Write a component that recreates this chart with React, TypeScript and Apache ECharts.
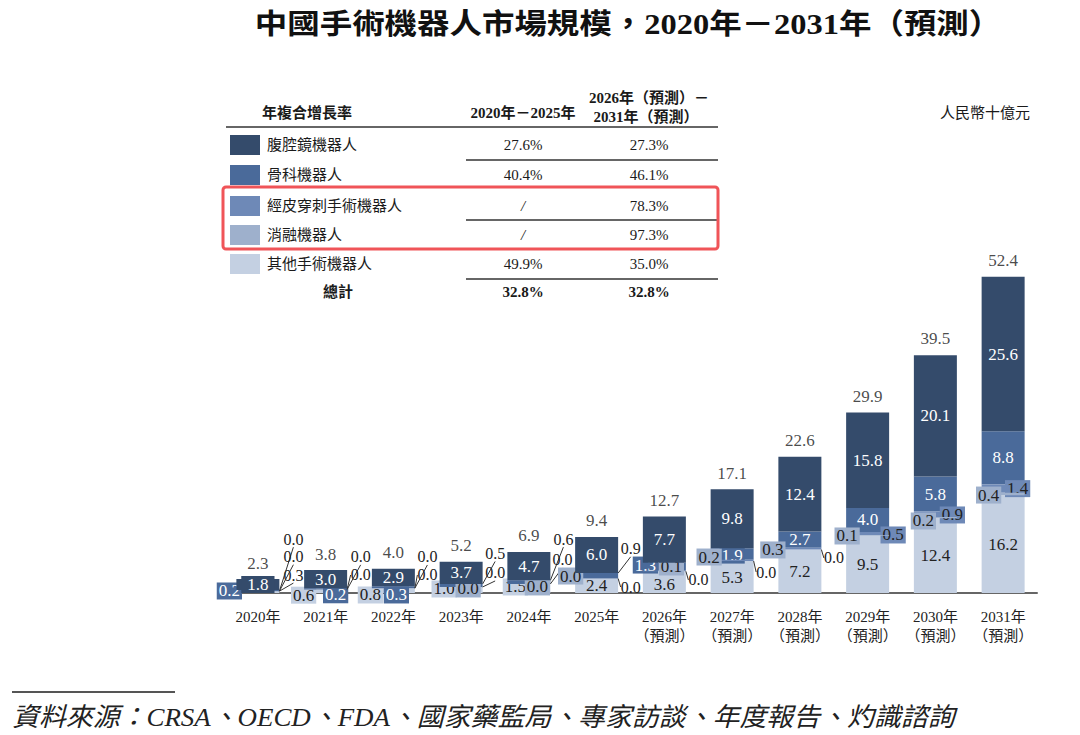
import React, { useEffect, useRef } from "react";
import * as echarts from "echarts";

// ---------------- data ----------------
const years = [
  "2020年", "2021年", "2022年", "2023年", "2024年", "2025年",
  "2026年\n（預測）", "2027年\n（預測）", "2028年\n（預測）",
  "2029年\n（預測）", "2030年\n（預測）", "2031年\n（預測）",
];
const laparoscopic = [1.8, 3.0, 2.9, 3.7, 4.7, 6.0, 7.7, 9.8, 12.4, 15.8, 20.1, 25.6];
const orthopedic = [0.2, 0.2, 0.3, 0.5, 0.6, 0.9, 1.3, 1.9, 2.7, 4.0, 5.8, 8.8];
const percutaneous = [0.0, 0.0, 0.0, 0.0, 0.0, 0.0, 0.1, 0.2, 0.3, 0.5, 0.9, 1.4];
const ablation = [0.0, 0.0, 0.0, 0.0, 0.0, 0.0, 0.0, 0.0, 0.0, 0.1, 0.2, 0.4];
const others = [0.3, 0.6, 0.8, 1.0, 1.5, 2.4, 3.6, 5.3, 7.2, 9.5, 12.4, 16.2];
const totals = [2.3, 3.8, 4.0, 5.2, 6.9, 9.4, 12.7, 17.1, 22.6, 29.9, 39.5, 52.4];

const seriesNames = ["腹腔鏡機器人", "骨科機器人", "經皮穿刺手術機器人", "消融機器人", "其他手術機器人"];
const cagrA = ["27.6%", "40.4%", "/", "/", "49.9%"];
const cagrB = ["27.3%", "46.1%", "78.3%", "97.3%", "35.0%"];
const totalLabel = "總計";
const totalCagr = ["32.8%", "32.8%"];

const TITLE = "中國手術機器人市場規模，2020年－2031年（預測）";
const UNIT = "人民幣十億元";
const SOURCE = "資料來源：CRSA、OECD、FDA、國家藥監局、專家訪談、年度報告、灼識諮詢";

// ---------------- styles ----------------
const COLORS: Record<string, string> = {
  lap: "#344b6b",
  ortho: "#4a6a9a",
  perc: "#6e89b7",
  abl: "#9eb0cc",
  other: "#c4d0e2",
};
const TEXT_ON: Record<string, string> = {
  lap: "#ffffff",
  ortho: "#ffffff",
  perc: "#222222",
  abl: "#222222",
  other: "#222222",
};
const FONT = '"Liberation Serif", "Noto Sans CJK TC", serif';

// label placement: [dx, dy, background key, guide line]
type Spec = [number, number, string, number] | null;
const N: Spec = null;
const lapSpecs: Spec[] = [[0, 0, "lap", 0], N, N, N, N, N, N, N, N, N, N, N];
const orthoSpecs: Spec[] = [
  [-28.5, 0.4, "ortho", 0], [10, 6, "ortho", 0], [3, 7.7, "ortho", 0],
  [34, -32, "", 1], [34.5, -43, "", 1], [34, -27, "", 1],
  [-19, -1.7, "ortho", 0], [0, 1, "ortho", 0], N, N, N, N,
];
const percSpecs: Spec[] = [
  [35.5, -52, "", 1], [35, -32.5, "", 1], [34, -31.2, "", 1],
  [34, -14, "", 1], [33.5, -24, "", 1], [34, 8.5, "", 1],
  [7, -4, "abl", 0], [-23, -3.4, "abl", 0], [-27, 1.3, "abl", 0],
  [25.5, 1.4, "perc", 0], [17, 0.7, "perc", 0], [14.5, 0, "perc", 0],
];
const ablSpecs: Spec[] = [
  [35.5, -34.5, "", 1], [35, -14.4, "", 1], [34, -13.2, "", 1],
  [7, 2, "abl", 0], [8.5, 3, "abl", 0], [-26, -2.5, "abl", 0],
  [34, 8.7, "", 1], [34, 11, "", 1], [34, 8.4, "", 1],
  [-20.5, 0.6, "abl", 0], [-12, 3.4, "abl", 0], [-14.5, 1, "abl", 0],
];
const otherSpecs: Spec[] = [
  [35.5, -17, "", 1], [-22, 4, "other", 0], [-23, 4.4, "other", 0],
  [-17, -1, "other", 0], [-13.5, -1.5, "other", 0], N,
  [0, 2.5, "", 0], N, N, N, N, N,
];

function buildData(vals: number[], specs: Spec[]) {
  return vals.map((v, i) => {
    const s = specs[i];
    const item: any = { value: v };
    if (s) {
      const [, , bg, line] = s;
      if (bg) {
        item.label = {
          backgroundColor: COLORS[bg],
          color: TEXT_ON[bg],
          padding: bg === "lap" ? [1, 6] : [1, 2],
        };
      } else if (line) {
        item.label = { color: "#222222", padding: 0, fontSize: 16 };
      }
      if (line) item.labelLine = { show: true, lineStyle: { color: "#333333", width: 1 } };
    }
    return item;
  });
}

function barSeries(name: string, key: string, vals: number[], specs: Spec[], z: number) {
  return {
    name,
    type: "bar",
    stack: "total",
    barWidth: 43,
    z,
    data: buildData(vals, specs),
    itemStyle: { color: COLORS[key] },
    label: {
      show: true,
      position: "inside",
      formatter: (p: any) => Number(p.value).toFixed(1),
      color: TEXT_ON[key],
      fontFamily: FONT,
      fontSize: 17,
      lineHeight: 15,
      padding: [1, 2],
    },
    labelLayout: (p: any) => {
      const s = specs[p.dataIndex];
      if (!s) return {};
      return {
        x: p.rect.x + p.rect.width / 2 + s[0],
        y: p.rect.y + p.rect.height / 2 + s[1],
        align: "center",
        verticalAlign: "middle",
      };
    },
  };
}

function txt(text: string, x: number, y: number, opts: any = {}) {
  return {
    type: "text",
    x,
    y,
    scaleX: opts.scaleX || 1,
    silent: true,
    style: {
      text,
      fill: opts.fill || "#1a1a1a",
      fontSize: opts.fontSize || 15,
      fontFamily: FONT,
      fontWeight: opts.bold ? "bold" : "normal",
      fontStyle: opts.italic ? "italic" : "normal",
      align: opts.align || "left",
      verticalAlign: "middle",
    },
  };
}
function hline(x1: number, x2: number, y: number, w = 1.5, color = "#333333") {
  return { type: "line", silent: true, shape: { x1, y1: y, x2, y2: y }, style: { stroke: color, lineWidth: w } };
}

export default function App() {
  const ref = useRef<HTMLDivElement>(null);
  useEffect(() => {
    if (!ref.current) return;
    const chart = echarts.init(ref.current, undefined, { renderer: "svg" });

    const rowY = [145, 175, 206, 235, 264];
    const keys = ["lap", "ortho", "perc", "abl", "other"];
    const colA = 523;
    const colB = 649;
    const graphic: any[] = [
      txt(TITLE, 628, 25, { fontSize: 29, bold: true, align: "center", fill: "#111", scaleX: 1.12 }),
      txt("年複合增長率", 262, 113, { bold: true }),
      txt("2020年－2025年", colA, 113, { bold: true, align: "center" }),
      txt("2026年（預測）－", colB, 98, { bold: true, align: "center" }),
      txt("2031年（預測）", colB - 3, 117, { bold: true, align: "center" }),
      txt(UNIT, 1030, 113, { align: "right", fontSize: 15 }),
      hline(226, 718, 127),
      hline(466, 718, 160),
      hline(466, 718, 220),
      hline(466, 718, 279),
      txt(totalLabel, 338, 292, { bold: true, align: "center" }),
      txt(totalCagr[0], colA, 292, { bold: true, align: "center" }),
      txt(totalCagr[1], colB, 292, { bold: true, align: "center" }),
      {
        type: "rect",
        silent: true,
        shape: { x: 223, y: 187, width: 495, height: 62, r: 3 },
        style: { fill: "none", stroke: "#f05458", lineWidth: 3 },
      },
      hline(12, 175, 692, 2, "#555"),
      txt(SOURCE, 12, 717, { italic: true, fontSize: 26, fill: "#222", scaleX: 1.035 }),
    ];
    seriesNames.forEach((n, i) => {
      graphic.push({
        type: "rect",
        silent: true,
        shape: { x: 230, y: rowY[i] - 10, width: 30, height: 20 },
        style: { fill: COLORS[keys[i]] },
      });
      graphic.push(txt(n, 267, rowY[i]));
      graphic.push(txt(cagrA[i], colA, rowY[i], { align: "center", italic: cagrA[i] === "/" }));
      graphic.push(txt(cagrB[i], colB, rowY[i], { align: "center" }));
    });

    chart.setOption({
      animation: false,
      backgroundColor: "#ffffff",
      grid: { left: 224, right: 43, top: 231, bottom: 142 },
      xAxis: {
        type: "category",
        data: years,
        axisTick: { show: false },
        axisLine: { lineStyle: { color: "#666", width: 2 } },
        axisLabel: {
          color: "#222",
          fontFamily: FONT,
          fontSize: 15,
          lineHeight: 19,
          margin: 14,
          interval: 0,
        },
      },
      yAxis: { type: "value", min: 0, max: 60, show: false },
      series: [
        barSeries(seriesNames[4], "other", others, otherSpecs, 2),
        barSeries(seriesNames[3], "abl", ablation, ablSpecs, 5),
        barSeries(seriesNames[2], "perc", percutaneous, percSpecs, 4),
        barSeries(seriesNames[1], "ortho", orthopedic, orthoSpecs, 3),
        barSeries(seriesNames[0], "lap", laparoscopic, lapSpecs, 6),
        {
          name: "total",
          type: "scatter",
          data: totals,
          symbolSize: 1,
          z: 10,
          itemStyle: { color: "rgba(0,0,0,0)" },
          label: {
            show: true,
            position: "top",
            distance: 7,
            formatter: (p: any) => Number(p.value).toFixed(1),
            color: "#1a1a1a",
            fontFamily: FONT,
            fontSize: 17,
          },
        },
      ],
      graphic,
    });
    return () => chart.dispose();
  }, []);
  return (
    <div
      ref={ref}
      style={{ position: "fixed", left: 0, top: 0, width: 1080, height: 735, background: "#fff" }}
    />
  );
}
